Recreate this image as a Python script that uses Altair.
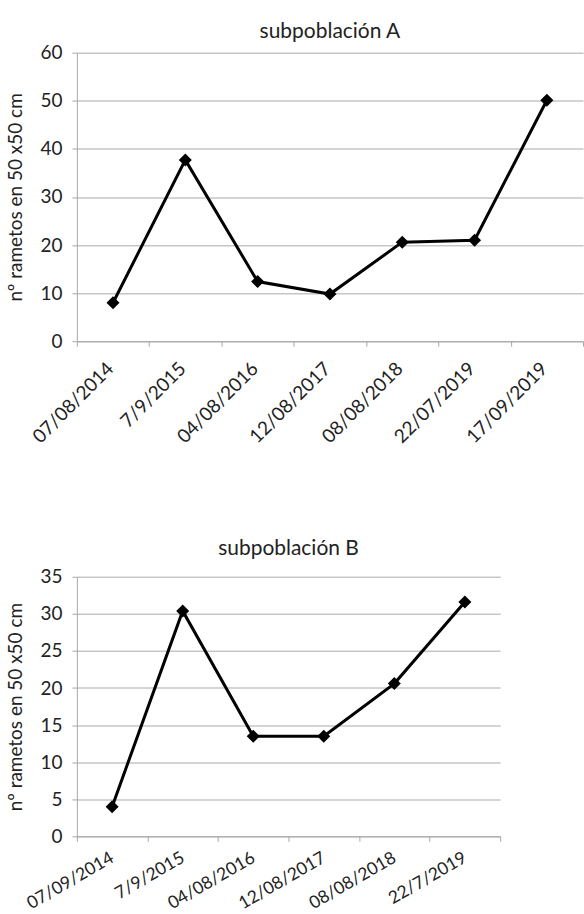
import altair as alt
import pandas as pd

# --- data -----------------------------------------------------------------
fechas_a = ["07/08/2014", "7/9/2015", "04/08/2016", "12/08/2017",
            "08/08/2018", "22/07/2019", "17/09/2019"]
rametos_a = [8.0, 37.7, 12.4, 9.8, 20.6, 21.0, 50.1]

fechas_b = ["07/09/2014", "7/9/2015", "04/08/2016", "12/08/2017",
            "08/08/2018", "22/7/2019"]
rametos_b = [4.0, 30.4, 13.5, 13.5, 20.6, 31.6]

ticks_a = [0, 10, 20, 30, 40, 50, 60]
ticks_b = [0, 5, 10, 15, 20, 25, 30, 35]

y_title = "nº rametos en 50 x50 cm"

FONT = "Lato"
TEXT = "#222222"
GRID = "#c6c6c6"
AXIS = "#a8a8a8"


def panel(fechas, valores, ticks, ymax, title, angle, lpad, loff, lsize,
          toff, w, h):
    df = pd.DataFrame({"fecha": fechas, "valor": valores})
    x = alt.X(
        "fecha:N", sort=None,
        scale=alt.Scale(type="band", paddingInner=0, paddingOuter=0),
        axis=alt.Axis(title=None, labelAngle=angle, labelAlign="right",
                      labelBaseline="middle", tickBand="extent", grid=False,
                      labelPadding=lpad, tickSize=5, labelOffset=loff,
                      labelFontSize=lsize),
    )
    y = alt.Y(
        "valor:Q",
        scale=alt.Scale(domain=[0, ymax], nice=False),
        axis=alt.Axis(title=y_title, values=ticks, grid=True, tickSize=5,
                      labelPadding=10, titlePadding=14),
    )
    base = alt.Chart(df).encode(x=x, y=y)
    line = base.mark_line(color="black", strokeWidth=3)
    pts = base.mark_point(shape="diamond", filled=True, color="black",
                          size=170, opacity=1)
    return (line + pts).properties(
        width=w, height=h,
        title=alt.TitleParams(title, fontSize=21, font=FONT, color=TEXT,
                              fontWeight="normal", offset=toff),
    )


top = panel(fechas_a, rametos_a, ticks_a, 60, "subpoblación A", -45, 19, -3,
            19, 2, 507, 289)
bottom = panel(fechas_b, rametos_b, ticks_b, 35, "subpoblación B", -30, 15, 0,
               17.5, 9, 424, 260)

chart = alt.vconcat(top, bottom, spacing=91).properties(
    padding={"left": 6, "top": 20, "right": 0, "bottom": 0}
).configure_view(stroke=None).configure_axis(
    labelFont=FONT, titleFont=FONT, labelFontSize=19, titleFontSize=19,
    labelColor=TEXT, titleColor=TEXT, titleFontWeight="normal",
    domainColor=AXIS, tickColor=AXIS, gridColor=GRID, gridWidth=1.5,
    domainWidth=1,
)

chart.save("out.html", embed_options={"renderer": "svg", "actions": False})
